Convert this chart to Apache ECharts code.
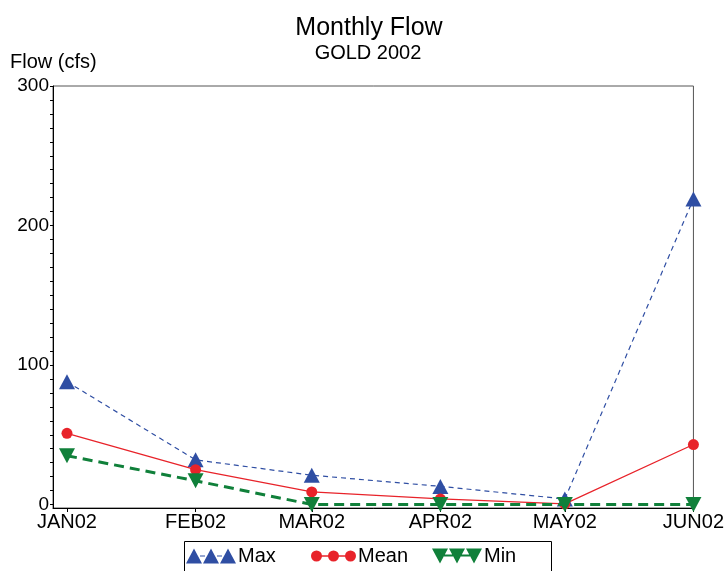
<!DOCTYPE html>
<html>
<head>
<meta charset="utf-8">
<script src="https://cdn.jsdelivr.net/npm/echarts@6/dist/echarts.min.js"></script>
<style>
    html, body { margin: 0; padding: 0; background: #fff; }
    #chart { width: 727px; height: 571px; }
</style>
</head>
<body>
<div id="chart"></div>
<script>
// month labels and day-of-year of the first of each month (2002)
const months = ['JAN02', 'FEB02', 'MAR02', 'APR02', 'MAY02', 'JUN02']
const monthDays = [0, 31, 59, 90, 120, 151]

// flow values (cfs)
const maxFlow = [88, 32, 21, 13, 4, 219]
const meanFlow = [51, 25, 9, 4, 0.5, 43]
const minFlow = [35, 17, 0, 0, 0, 0]

const yLabels = [0, 100, 200, 300]
const yTicks = []
for (let v = 0; v <= 300; v += 10) yTicks.push(v)

const FONT = 'Liberation Sans, Arial, sans-serif'

const pair = (vals) => vals.map((v, i) => [monthDays[i], v])

const myChart = echarts.init(document.getElementById('chart'))

const option = {
    animation: false,
    backgroundColor: '#fff',
    title: [
        {
            text: 'Monthly Flow',
            left: 364,
            top: 11,
            textAlign: 'center',
            textStyle: { fontFamily: FONT, fontSize: 25, fontWeight: 'normal', color: '#000' }
        },
        {
            text: 'GOLD 2002',
            left: 363,
            top: 38,
            textAlign: 'center',
            textStyle: { fontFamily: FONT, fontSize: 20, fontWeight: 'normal', color: '#000' }
        },
        {
            text: 'Flow (cfs)',
            left: 5,
            top: 47,
            textStyle: { fontFamily: FONT, fontSize: 20, fontWeight: 'normal', color: '#000' }
        }
    ],
    legend: [
        {
            data: [{ name: 'Max', icon: 'path://M0,15 L8,0 L16,15 Z M17,15 L25,0 L33,15 Z M34,15 L42,0 L50,15 Z M14,7 L19,7 L19,8 L14,8 Z M31,7 L36,7 L36,8 L31,8 Z' }],
            left: 186, top: 546, padding: 0,
            itemWidth: 50, itemHeight: 15,
            itemStyle: { borderWidth: 0 },
            textStyle: { fontFamily: FONT, fontSize: 20, color: '#000', padding: [0, 0, 0, -3] },
            selectedMode: false
        },
        {
            data: [{ name: 'Mean', icon: 'path://M0,5.5 A5.5,5.5 0 1,1 11,5.5 A5.5,5.5 0 1,1 0,5.5 Z M17,5.5 A5.5,5.5 0 1,1 28,5.5 A5.5,5.5 0 1,1 17,5.5 Z M34,5.5 A5.5,5.5 0 1,1 45,5.5 A5.5,5.5 0 1,1 34,5.5 Z M10,4.8 L18,4.8 L18,6.2 L10,6.2 Z M27,4.8 L35,4.8 L35,6.2 L27,6.2 Z' }],
            left: 311, top: 546, padding: 0,
            itemWidth: 45, itemHeight: 15,
            itemStyle: { borderWidth: 0 },
            textStyle: { fontFamily: FONT, fontSize: 20, color: '#000', padding: [0, 0, 0, -3] },
            selectedMode: false
        },
        {
            data: [{ name: 'Min', icon: 'path://M0,0 L16,0 L8,15 Z M17,0 L33,0 L25,15 Z M34,0 L50,0 L42,15 Z M12,6 L21,6 L21,8 L12,8 Z M29,6 L38,6 L38,8 L29,8 Z' }],
            left: 432, top: 546, padding: 0,
            itemWidth: 50, itemHeight: 15,
            itemStyle: { borderWidth: 0 },
            textStyle: { fontFamily: FONT, fontSize: 20, color: '#000', padding: [0, 0, 0, -3] },
            selectedMode: false
        }
    ],
    graphic: [
        {
            type: 'rect',
            shape: { x: 184.5, y: 541.5, width: 367, height: 40 },
            style: { fill: 'none', stroke: '#000', lineWidth: 1 }
        }
    ],
    grid: {
        left: 53,
        right: 33,
        top: 86,
        bottom: 63,
        show: true,
        borderColor: '#555',
        borderWidth: 1
    },
    xAxis: {
        type: 'value',
        min: -3.37,
        max: 151,
        splitLine: { show: false },
        axisLine: { show: true, onZero: false, lineStyle: { color: '#000', width: 1 } },
        axisTick: {
            show: true,
            customValues: monthDays,
            length: 4,
            lineStyle: { color: '#000' }
        },
        axisLabel: {
            customValues: monthDays,
            formatter(value) {
                const i = monthDays.indexOf(value)
                return i >= 0 ? months[i] : ''
            },
            margin: 4,
            color: '#000',
            fontFamily: FONT,
            fontSize: 20,
            hideOverlap: false
        }
    },
    yAxis: {
        type: 'value',
        min: -2.5,
        max: 300,
        splitLine: { show: false },
        axisLine: { show: true, onZero: false, lineStyle: { color: '#000', width: 1 } },
        axisTick: {
            show: true,
            customValues: yTicks,
            length: 3,
            lineStyle: { color: '#000' }
        },
        axisLabel: {
            customValues: yLabels,
            margin: 4,
            color: '#000',
            fontFamily: FONT,
            fontSize: 19
        }
    },
    series: [
        {
            name: 'Max',
            type: 'line',
            data: pair(maxFlow),
            symbol: 'triangle',
            symbolSize: [16, 15],
            itemStyle: { color: '#2f4ea3' },
            lineStyle: { color: '#2f4ea3', width: 1.2, type: [5, 4] },
            z: 3
        },
        {
            name: 'Mean',
            type: 'line',
            data: pair(meanFlow),
            symbol: 'circle',
            symbolSize: 11,
            itemStyle: { color: '#e8232a' },
            lineStyle: { color: '#e8232a', width: 1.3 },
            z: 4
        },
        {
            name: 'Min',
            type: 'line',
            data: pair(minFlow),
            symbol: 'triangle',
            symbolRotate: 180,
            symbolSize: [16, 15],
            itemStyle: { color: '#10803a' },
            lineStyle: { color: '#10803a', width: 3, type: [10, 6] },
            z: 5
        }
    ]
}

myChart.setOption(option)
</script>
</body>
</html>
